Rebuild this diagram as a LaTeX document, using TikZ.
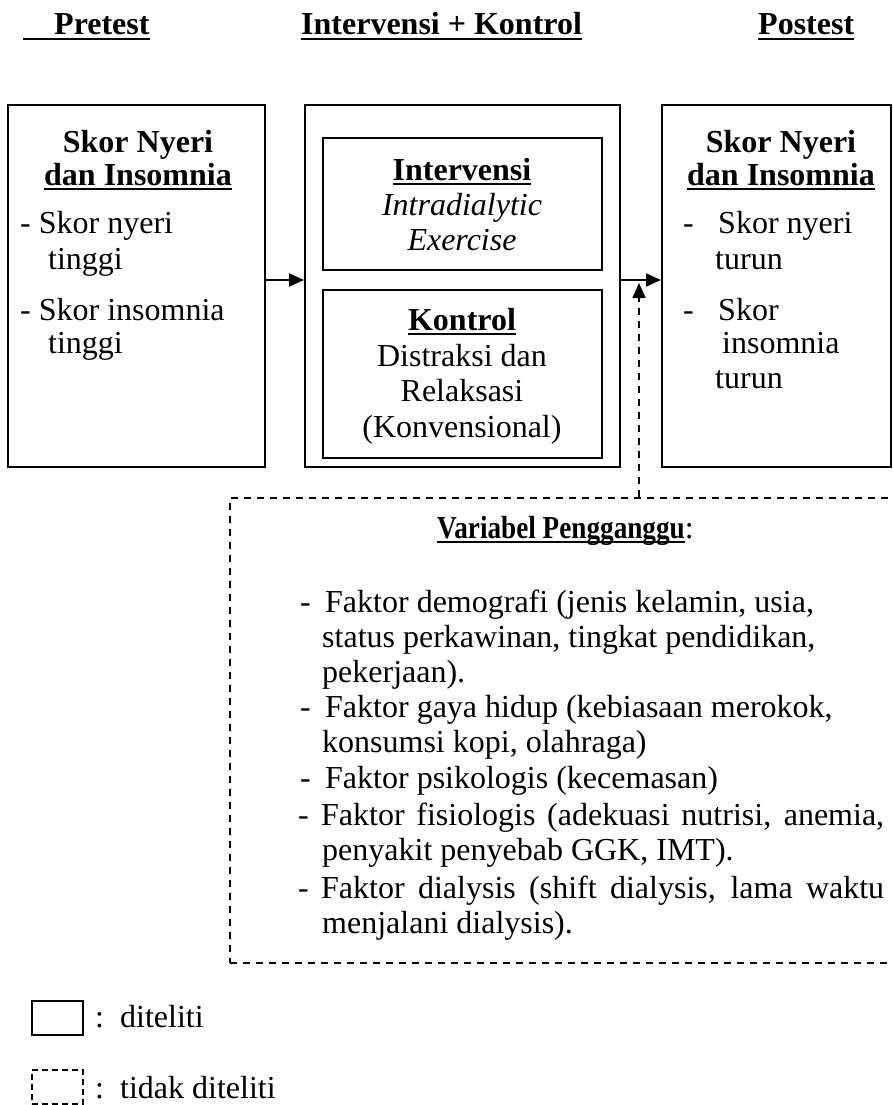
\documentclass[tikz,border=0pt]{standalone}
\usepackage{fontspec}
\setmainfont{Liberation Serif}
\newfontfamily\condfont{Liberation Serif}[FakeStretch=0.85]
\usetikzlibrary{arrows.meta,fit}
\newcommand\myul[1]{\setbox0\hbox{#1}\rlap{\rule[-5pt]{\wd0}{2.4pt}}\box0}
\begin{document}
\begin{tikzpicture}[x=1pt,y=-1pt,
  every node/.style={inner sep=0pt, font=\fontsize{32}{35}\selectfont},
  box/.style={draw, line width=2pt},
  dbox/.style={draw, line width=1.6pt, dash pattern=on 7pt off 6pt},
  arr/.style={line width=2pt, -{Triangle[length=15pt,width=13pt]}},
  txt/.style={anchor=base west},
  ctxt/.style={anchor=base}]
\fill[white] (0,0) rectangle (893,1105);
\useasboundingbox (0,0) rectangle (893,1105);
% headers
\node[txt] (h1) at (23,35) {\bfseries\myul{\hspace{31pt}Pretest}};
\node[txt] (h2) at (301,35) {\bfseries\myul{Intervensi + Kontrol}};
\node[txt] (h3) at (758,35) {\bfseries\myul{Postest}};
% boxes
\node[box, fit={(8,105) (265,467)}] (b1) {};
\node[box, fit={(305,105) (620,467)}] (b2) {};
\node[box, fit={(323,138) (602,270)}] (b2a) {};
\node[box, fit={(323,290) (602,458)}] (b2b) {};
\node[box, fit={(662,105) (891,467)}] (b3) {};
\node[dbox, fit={(230,498) (905,963)}] (dv) {};
% arrows
\draw[arr] ([yshift=6pt]b1.east) -- ([yshift=6pt]b2.west);
\draw[arr] ([yshift=6pt]b2.east) -- ([yshift=6pt]b3.west);
\coordinate (dtip) at (639,283);
\draw[arr, line width=1.6pt, dash pattern=on 7pt off 6pt] (dv.north -| dtip) -- (dtip);
% box 1 text
\node[ctxt] (b1t1) at (138,153) {\bfseries Skor Nyeri};
\node[ctxt] (b1t2) at (138,185) {\bfseries\myul{dan Insomnia}};
\node[txt] (b1l1) at (20,233) {- Skor nyeri};
\node[txt] (b1l2) at (48,269) {tinggi};
\node[txt] (b1l3) at (20,320) {- Skor insomnia};
\node[txt] (b1l4) at (48,353) {tinggi};
% box 2 text
\node[ctxt] (b2t1) at (462,180) {\bfseries\myul{Intervensi}};
\node[ctxt] (b2t2) at (462,215) {\itshape Intradialytic};
\node[ctxt] (b2t3) at (462,250) {\itshape Exercise};
\node[ctxt] (b2t4) at (462,330) {\bfseries\myul{Kontrol}};
\node[ctxt] (b2t5) at (462,366) {Distraksi dan};
\node[ctxt] (b2t6) at (462,401) {Relaksasi};
\node[ctxt] (b2t7) at (462,437) {(Konvensional)};
% box 3 text
\node[ctxt] (b3t1) at (781,153) {\bfseries Skor Nyeri};
\node[ctxt] (b3t2) at (781,185) {\bfseries\myul{dan Insomnia}};
\node[txt] (b3d1) at (683,233) {-};
\node[txt] (b3l1) at (718,233) {Skor nyeri};
\node[txt] (b3l2) at (715,269) {turun};
\node[txt] (b3d2) at (683,320) {-};
\node[txt] (b3l3) at (718,320) {Skor};
\node[txt] (b3l4) at (722,353) {insomnia};
\node[txt] (b3l5) at (715,388) {turun};
% confounders
\node[txt] (vt) at (437,538) {\condfont\bfseries\myul{Variabel Pengganggu}\normalfont:};
\node[txt] (l1d) at (300,612) {-};
\node[txt] (l1) at (325,612) {Faktor demografi (jenis kelamin, usia,};
\node[txt] (l2) at (322,647) {status perkawinan, tingkat pendidikan,};
\node[txt] (l3) at (322,682) {pekerjaan).};
\node[txt] (l4d) at (300,717) {-};
\node[txt] (l4) at (325,717) {Faktor gaya hidup (kebiasaan merokok,};
\node[txt] (l5) at (322,752) {konsumsi kopi, olahraga)};
\node[txt] (l6d) at (300,788) {-};
\node[txt] (l6) at (325,788) {Faktor psikologis (kecemasan)};
\node[txt] (l7d) at (298,825) {-};
\node[txt] (l7) at (321,825) {\makebox[563pt][s]{Faktor fisiologis (adekuasi nutrisi, anemia,}};
\node[txt] (l8) at (322,860) {penyakit penyebab GGK, IMT).};
\node[txt] (l9d) at (298,898) {-};
\node[txt] (l9) at (321,898) {\makebox[563pt][s]{Faktor dialysis (shift dialysis, lama waktu}};
\node[txt] (l10) at (322,933) {menjalani dialysis).};
% legend
\node[box, fit={(32,1001) (83,1035)}] (lg1) {};
\node[txt] (lc1) at (95,1027) {:};
\node[txt] (lt1) at (120,1027) {diteliti};
\node[dbox, dash pattern=on 6pt off 4pt, fit={(32,1070) (83,1104)}] (lg2) {};
\node[txt] (lc2) at (95,1098) {:};
\node[txt] (lt2) at (120,1098) {tidak diteliti};
\end{tikzpicture}
\end{document}
